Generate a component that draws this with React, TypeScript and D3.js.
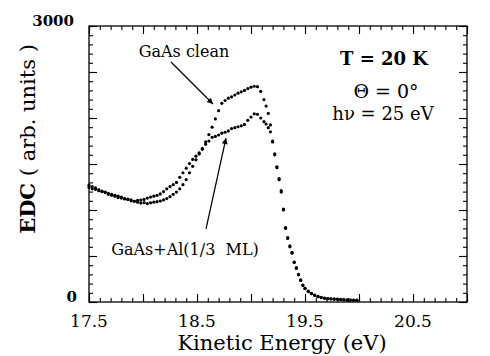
import { useEffect, useRef } from 'react';
import * as d3 from 'd3';

// kinetic energy (eV), shared by both spectra
const energy = [
  17.50, 17.53, 17.56, 17.59, 17.62, 17.65, 17.68, 17.71, 17.74, 17.77,
  17.80, 17.83, 17.86, 17.89, 17.92, 17.95, 17.98, 18.01, 18.04, 18.07,
  18.10, 18.13, 18.16, 18.19, 18.22, 18.25, 18.28, 18.31, 18.34, 18.37,
  18.40, 18.43, 18.46, 18.49, 18.52, 18.55, 18.58, 18.61, 18.64, 18.67,
  18.70, 18.73, 18.76, 18.79, 18.82, 18.85, 18.88, 18.91, 18.94, 18.97,
  19.00, 19.03, 19.06, 19.09, 19.12,
  19.14, 19.16, 19.18, 19.20, 19.22, 19.24, 19.26, 19.28, 19.30, 19.32,
  19.34, 19.36, 19.38, 19.40, 19.42, 19.44, 19.46, 19.48, 19.50,
  19.53, 19.56, 19.59, 19.62, 19.65, 19.68, 19.71, 19.74, 19.77, 19.80,
  19.83, 19.86, 19.89, 19.92, 19.95, 19.98,
];

// GaAs clean
const edcClean = [
  1270, 1255, 1240, 1222, 1205, 1195, 1180, 1170, 1160, 1150,
  1140, 1125, 1115, 1100, 1095, 1105, 1108, 1115, 1130, 1140,
  1150, 1160, 1175, 1200, 1230, 1255, 1275, 1300, 1355, 1405,
  1455, 1505, 1550, 1585, 1620, 1670, 1740, 1820, 1900, 1990,
  2080, 2160, 2190, 2215, 2230, 2250, 2270, 2285, 2300, 2320,
  2335, 2345, 2340, 2290, 2200,
  2130, 2050, 1925, 1750, 1610, 1470, 1340, 1210, 1010, 810,
  700, 610, 540, 435, 375, 300, 240, 185, 150,
  118, 95, 76, 62, 50, 43, 38, 35, 33, 32,
  28, 25, 23, 22, 20, 20,
];

// GaAs + Al (1/3 ML)
const edcAl = [
  1245, 1230, 1225, 1210, 1200, 1190, 1170, 1160, 1150, 1135,
  1130, 1120, 1118, 1110, 1095, 1085, 1075, 1080, 1070, 1078,
  1085, 1090, 1098, 1110, 1125, 1145, 1170, 1195, 1230, 1275,
  1330, 1405, 1475, 1545, 1610, 1660, 1715, 1750, 1790, 1800,
  1815, 1835, 1845, 1860, 1885, 1895, 1905, 1915, 1930, 1975,
  2010, 2045, 2040, 2000, 1960,
  1935, 1895, 1850, 1740, 1600, 1460, 1330, 1195, 1000, 800,
  690, 600, 530, 430, 365, 295, 235, 180, 145,
  112, 90, 72, 58, 48, 40, 36, 33, 30, 30,
  27, 24, 22, 20, 19, 18,
];

const xTickLabels = [17.5, 18.5, 19.5, 20.5];
const yTickLabels = [0, 3000];

const W = 490;
const H = 356;
const FONT = "'DejaVu Serif', 'Times New Roman', Times, serif";

export default function App() {
  const svgRef = useRef<SVGSVGElement>(null);

  useEffect(() => {
    if (!svgRef.current) return;
    const svg = d3.select(svgRef.current);
    svg.selectAll('*').remove();

    const x = d3.scaleLinear().domain([17.5, 21]).range([89, 467]);
    const y = d3.scaleLinear().domain([0, 3000]).range([302, 26]);
    const [x0, x1] = x.range();
    const [y0, y1] = y.range();

    const xMinor = d3.range(175, 211).map((v) => v / 10);
    const xMajor = d3.range(35, 43).map((v) => v / 2);
    const yMinor = d3.range(0, 3001, 100);
    const yMajor = d3.range(0, 3001, 500);

    const defs = svg.append('defs');
    defs.append('marker')
      .attr('id', 'arrowhead')
      .attr('viewBox', '0 0 10 10')
      .attr('refX', 10).attr('refY', 5)
      .attr('markerWidth', 9).attr('markerHeight', 6)
      .attr('markerUnits', 'userSpaceOnUse')
      .attr('orient', 'auto')
      .append('path')
      .attr('d', 'M0,0 L10,5 L0,10 Z')
      .attr('fill', '#000');

    // inward ticks on all four sides
    const tickGroups: [any, number[], number, string][] = [
      [d3.axisBottom(x), xMinor, 4, `translate(0,${y0})`],
      [d3.axisBottom(x), xMajor, 8, `translate(0,${y0})`],
      [d3.axisTop(x), xMinor, 4, `translate(0,${y1})`],
      [d3.axisTop(x), xMajor, 8, `translate(0,${y1})`],
      [d3.axisLeft(y), yMinor, 4, `translate(${x0},0)`],
      [d3.axisLeft(y), yMajor, 8, `translate(${x0},0)`],
      [d3.axisRight(y), yMinor, 4, `translate(${x1},0)`],
      [d3.axisRight(y), yMajor, 8, `translate(${x1},0)`],
    ];
    tickGroups.forEach(([axis, vals, len, tr]) => {
      const g = svg.append('g')
        .attr('transform', tr)
        .call(axis.tickValues(vals).tickSize(-len).tickFormat(() => ''));
      g.select('.domain').remove();
      g.selectAll('.tick line').attr('stroke', '#000').attr('stroke-width', 1.1);
    });

    svg.append('rect')
      .attr('x', x0).attr('y', y1)
      .attr('width', x1 - x0).attr('height', y0 - y1)
      .attr('fill', 'none')
      .attr('stroke', '#000')
      .attr('stroke-width', 1.3);

    svg.append('g')
      .selectAll('text')
      .data(xTickLabels)
      .join('text')
      .attr('x', (d) => x(d))
      .attr('y', 327)
      .attr('text-anchor', 'middle')
      .style('font-family', FONT)
      .attr('font-size', 17)
      .text((d) => d.toFixed(1));

    svg.append('g')
      .selectAll('text')
      .data(yTickLabels)
      .join('text')
      .attr('x', (d) => (d === 0 ? 77 : 74))
      .attr('y', (d) => y(d))
      .attr('text-anchor', 'end')
      .style('font-family', FONT)
      .attr('font-weight', 'bold')
      .attr('font-size', 15)
      .text((d) => String(d));

    svg.append('text')
      .attr('x', (x0 + x1) / 2 + 4)
      .attr('y', 350)
      .attr('text-anchor', 'middle')
      .style('font-family', FONT)
      .attr('font-size', 21)
      .text('Kinetic Energy (eV)');

    const yl = svg.append('text')
      .attr('transform', 'translate(35,139) rotate(-90)')
      .attr('text-anchor', 'middle')
      .style('font-family', FONT)
      .attr('font-size', 21);
    yl.append('tspan').attr('font-weight', 'bold').text('EDC');
    yl.append('tspan').text(' ( arb. units )');

    const pts = (vals: number[]) => energy.map((e, i) => [x(e), y(vals[i])]);

    [edcAl, edcClean].forEach((vals) => {
      svg.append('g')
        .selectAll('circle')
        .data(pts(vals))
        .join('circle')
        .attr('cx', (d) => d[0])
        .attr('cy', (d) => d[1])
        .attr('r', 1.6)
        .attr('fill', '#000');
    });

    // annotations
    svg.append('text')
      .attr('x', 184).attr('y', 57)
      .attr('text-anchor', 'middle')
      .style('font-family', FONT).attr('font-size', 16)
      .text('GaAs clean');
    svg.append('line')
      .attr('x1', 171).attr('y1', 62).attr('x2', 213).attr('y2', 104)
      .attr('stroke', '#000').attr('stroke-width', 1.2)
      .attr('marker-end', 'url(#arrowhead)');

    svg.append('text')
      .attr('x', 185).attr('y', 255)
      .attr('text-anchor', 'middle')
      .style('font-family', FONT).attr('font-size', 16)
      .style('white-space', 'pre')
      .text('GaAs+Al(1/3  ML)');
    svg.append('line')
      .attr('x1', 206).attr('y1', 229).attr('x2', 226).attr('y2', 138)
      .attr('stroke', '#000').attr('stroke-width', 1.2)
      .attr('marker-end', 'url(#arrowhead)');

    svg.append('text')
      .attr('x', 384).attr('y', 65)
      .attr('text-anchor', 'middle')
      .style('font-family', FONT).attr('font-size', 18).attr('font-weight', 'bold')
      .text('T = 20 K');
    svg.append('text')
      .attr('x', 386).attr('y', 98)
      .attr('text-anchor', 'middle')
      .style('font-family', FONT).attr('font-size', 19)
      .text('Θ = 0°');
    svg.append('text')
      .attr('x', 383).attr('y', 120)
      .attr('text-anchor', 'middle')
      .style('font-family', FONT).attr('font-size', 18)
      .text('hν = 25 eV');
  }, []);

  return (
    <svg
      ref={svgRef}
      width={W}
      height={H}
      style={{ position: 'absolute', left: 0, top: 0, background: '#fff' }}
    />
  );
}
